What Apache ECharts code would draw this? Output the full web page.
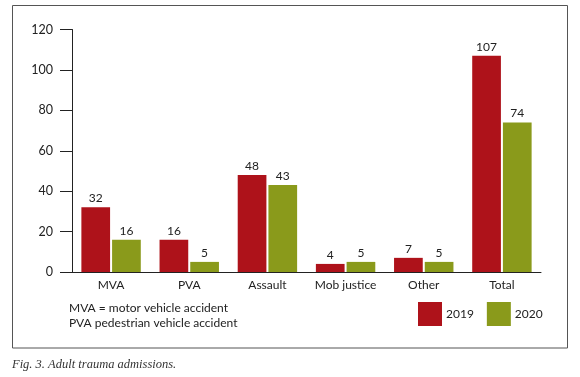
<!DOCTYPE html>
<html>
<head>
<meta charset="utf-8">
<script src="https://cdn.jsdelivr.net/npm/echarts@6/dist/echarts.min.js"></script>
<style>
  html, body { margin: 0; padding: 0; background: #fff; }
  #chart { width: 580px; height: 377px; }
</style>
</head>
<body>
<div id="chart"></div>
<script>
var categories = ["MVA", "PVA", "Assault", "Mob justice", "Other", "Total"];
var values2019 = [32, 16, 48, 4, 7, 107];
var values2020 = [16, 5, 43, 5, 5, 74];
var yTicks = [0, 20, 40, 60, 80, 100, 120];

var font = "Lato";
var red = "#ae121a";
var green = "#8a9a1b";

var myChart = echarts.init(document.getElementById("chart"));
myChart.setOption({
  animation: false,
  textStyle: { fontFamily: font },
  grid: {
    left: 72,
    right: 39,
    top: 29.5,
    bottom: 105,
  },
  legend: {
    data: ["2019", "2020"],
    left: 413,
    top: 297,
    itemWidth: 24,
    itemHeight: 24,
    itemGap: 13,
    icon: "rect",
    textStyle: { color: "#222", fontSize: 12, fontFamily: font, padding: [0, 0, 0, -1] },
  },
  xAxis: {
    type: "category",
    data: categories,
    axisTick: { show: false },
    axisLine: { lineStyle: { color: "#222", width: 1 } },
    axisLabel: { color: "#222", fontSize: 12, margin: 7, interval: 0 },
  },
  yAxis: {
    type: "value",
    min: yTicks[0],
    max: yTicks[yTicks.length - 1],
    interval: 20,
    splitLine: { show: false },
    axisLine: { show: true, lineStyle: { color: "#222", width: 1 } },
    axisTick: { show: true, length: 12, lineStyle: { color: "#222" } },
    axisLabel: { color: "#222", fontSize: 12.5, margin: 19 },
  },
  series: [
    {
      name: "2019",
      type: "bar",
      data: values2019,
      barGap: "7%",
      barCategoryGap: "24%",
      itemStyle: { color: red },
      label: { show: true, position: "top", distance: 3, color: "#222", fontSize: 12 },
    },
    {
      name: "2020",
      type: "bar",
      data: values2020,
      itemStyle: { color: green },
      label: { show: true, position: "top", distance: 3, color: "#222", fontSize: 12 },
    },
  ],
  graphic: [
    {
      type: "rect",
      shape: { x: 12.5, y: 5.5, width: 555, height: 342.5 },
      style: { fill: null, stroke: "#555", lineWidth: 1 },
      silent: true,
    },
    {
      type: "text",
      left: 69,
      top: 301,
      style: {
        text: "MVA = motor vehicle accident\nPVA pedestrian vehicle accident",
        fill: "#222",
        font: "12px " + font,
        lineHeight: 15,
      },
    },
    {
      type: "text",
      left: 12,
      top: 358,
      style: {
        text: "Fig. 3. Adult trauma admissions.",
        fill: "#333",
        font: "italic 12.5px 'Liberation Serif'",
      },
    },
  ],
});
</script>
</body>
</html>
